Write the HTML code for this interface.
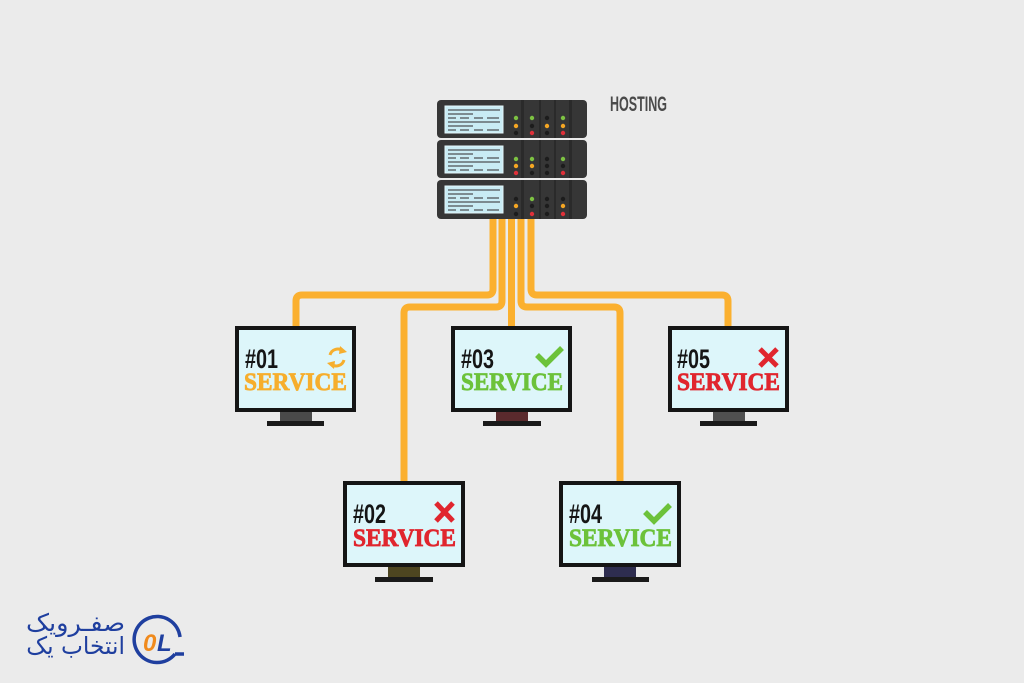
<!DOCTYPE html>
<html><head><meta charset="utf-8"><style>
html,body{margin:0;padding:0;background:#ebebeb;}
svg{display:block;}
.fa{position:absolute;left:0;width:125px;text-align:right;font-family:'DejaVu Sans',sans-serif;font-size:24px;line-height:24px;color:#1f3f9f;transform-origin:right top;white-space:nowrap;}
</style></head><body>
<svg width="1024" height="683" viewBox="0 0 1024 683" xmlns="http://www.w3.org/2000/svg">
<rect width="1024" height="683" fill="#ebebeb"/>

<!-- cables -->
<g fill="none" stroke="#fbb02f" stroke-width="7">
<path d="M493 215 V289 Q493 295 487 295 H302 Q296 295 296 301 V328"/>
<path d="M502 215 V301 Q502 307 496 307 H410 Q404 307 404 313 V483"/>
<path d="M511.5 215 V328"/>
<path d="M521 215 V301 Q521 307 527 307 H614 Q620 307 620 313 V483"/>
<path d="M531 215 V289 Q531 295 537 295 H722 Q728 295 728 301 V328"/>
</g>

<!-- server -->
<g>
<rect x="437" y="100" width="150" height="38" rx="4" fill="#363636"/>
<rect x="437" y="140" width="150" height="38" rx="4" fill="#363636"/>
<rect x="437" y="180" width="150" height="39" rx="4" fill="#363636"/>
<g fill="#2a2a2a">
<rect x="521" y="100" width="3" height="119"/>
<rect x="539" y="100" width="2" height="119"/>
<rect x="554" y="100" width="2" height="119"/>
<rect x="569" y="100" width="3" height="119"/>
</g>
<rect x="437" y="138" width="150" height="2" fill="#ebebeb"/>
<rect x="437" y="178" width="150" height="2" fill="#ebebeb"/>
<g>
<rect x="445" y="106" width="58" height="27" fill="#c9ecf4" stroke="#e4f6fa" stroke-width="1"/>
<rect x="445" y="146" width="58" height="27" fill="#c9ecf4" stroke="#e4f6fa" stroke-width="1"/>
<rect x="445" y="186" width="58" height="27" fill="#c9ecf4" stroke="#e4f6fa" stroke-width="1"/>
<g fill="#7c8b90">
<rect x="448" y="109" width="52" height="2"/><rect x="448" y="113" width="25" height="2"/>
<rect x="448" y="117" width="8" height="2"/><rect x="460" y="117" width="9" height="2"/><rect x="474" y="117" width="9" height="2"/><rect x="487" y="117" width="12" height="2"/>
<rect x="448" y="121" width="52" height="2"/><rect x="448" y="125" width="25" height="2"/>
<rect x="448" y="129" width="8" height="2"/><rect x="460" y="129" width="9" height="2"/><rect x="474" y="129" width="9" height="2"/><rect x="487" y="129" width="12" height="2"/>
</g>
<g fill="#7c8b90" transform="translate(0,40)">
<rect x="448" y="109" width="52" height="2"/><rect x="448" y="113" width="25" height="2"/>
<rect x="448" y="117" width="8" height="2"/><rect x="460" y="117" width="9" height="2"/><rect x="474" y="117" width="9" height="2"/><rect x="487" y="117" width="12" height="2"/>
<rect x="448" y="121" width="52" height="2"/><rect x="448" y="125" width="25" height="2"/>
<rect x="448" y="129" width="8" height="2"/><rect x="460" y="129" width="9" height="2"/><rect x="474" y="129" width="9" height="2"/><rect x="487" y="129" width="12" height="2"/>
</g>
<g fill="#7c8b90" transform="translate(0,80)">
<rect x="448" y="109" width="52" height="2"/><rect x="448" y="113" width="25" height="2"/>
<rect x="448" y="117" width="8" height="2"/><rect x="460" y="117" width="9" height="2"/><rect x="474" y="117" width="9" height="2"/><rect x="487" y="117" width="12" height="2"/>
<rect x="448" y="121" width="52" height="2"/><rect x="448" y="125" width="25" height="2"/>
<rect x="448" y="129" width="8" height="2"/><rect x="460" y="129" width="9" height="2"/><rect x="474" y="129" width="9" height="2"/><rect x="487" y="129" width="12" height="2"/>
</g>
</g>
<g>
<circle cx="516" cy="118" r="2.2" fill="#7dc242"/><circle cx="516" cy="126" r="2.2" fill="#f5a623"/><circle cx="516" cy="133" r="2.2" fill="#1c1c1c"/>
<circle cx="532" cy="118" r="2.2" fill="#7dc242"/><circle cx="532" cy="126" r="2.2" fill="#1c1c1c"/><circle cx="532" cy="133" r="2.2" fill="#e0313a"/>
<circle cx="547" cy="118" r="2.2" fill="#1c1c1c"/><circle cx="547" cy="126" r="2.2" fill="#f5a623"/><circle cx="547" cy="133" r="2.2" fill="#1c1c1c"/>
<circle cx="563" cy="118" r="2.2" fill="#7dc242"/><circle cx="563" cy="126" r="2.2" fill="#f5a623"/><circle cx="563" cy="133" r="2.2" fill="#e0313a"/>

<circle cx="516" cy="159" r="2.2" fill="#7dc242"/><circle cx="516" cy="166" r="2.2" fill="#f5a623"/><circle cx="516" cy="173" r="2.2" fill="#e0313a"/>
<circle cx="532" cy="159" r="2.2" fill="#7dc242"/><circle cx="532" cy="166" r="2.2" fill="#f5a623"/><circle cx="532" cy="173" r="2.2" fill="#1c1c1c"/>
<circle cx="547" cy="159" r="2.2" fill="#1c1c1c"/><circle cx="547" cy="166" r="2.2" fill="#1c1c1c"/><circle cx="547" cy="173" r="2.2" fill="#1c1c1c"/>
<circle cx="563" cy="159" r="2.2" fill="#7dc242"/><circle cx="563" cy="166" r="2.2" fill="#1c1c1c"/><circle cx="563" cy="173" r="2.2" fill="#e0313a"/>

<circle cx="516" cy="199" r="2.2" fill="#1c1c1c"/><circle cx="516" cy="206" r="2.2" fill="#f5a623"/><circle cx="516" cy="214" r="2.2" fill="#1c1c1c"/>
<circle cx="532" cy="199" r="2.2" fill="#7dc242"/><circle cx="532" cy="206" r="2.2" fill="#1c1c1c"/><circle cx="532" cy="214" r="2.2" fill="#e0313a"/>
<circle cx="547" cy="199" r="2.2" fill="#1c1c1c"/><circle cx="547" cy="206" r="2.2" fill="#1c1c1c"/><circle cx="547" cy="214" r="2.2" fill="#1c1c1c"/>
<circle cx="563" cy="199" r="2.2" fill="#1c1c1c"/><circle cx="563" cy="206" r="2.2" fill="#f5a623"/><circle cx="563" cy="214" r="2.2" fill="#e0313a"/>
</g>
</g>

<text x="610" y="111" font-family="Liberation Sans, sans-serif" font-weight="bold" font-size="21" fill="#4a4a4a" textLength="57" lengthAdjust="spacingAndGlyphs">HOSTING</text>

<!-- #01 -->
<g>
<rect x="280" y="411" width="32" height="10" fill="#4a4a4a"/>
<rect x="267" y="421" width="57" height="5" fill="#1a1a1a"/>
<rect x="235" y="326" width="121" height="86" fill="#151515"/>
<rect x="239" y="330" width="113" height="78" fill="#ddf6fa"/>
<text x="245" y="368" font-family="Liberation Sans, sans-serif" font-weight="bold" font-size="27" fill="#151515" textLength="33" lengthAdjust="spacingAndGlyphs">#01</text>
<text x="244" y="390" font-family="Liberation Serif, serif" font-weight="bold" font-size="25" fill="#f6ae2d" stroke="#f6ae2d" stroke-width="0.8" textLength="103" lengthAdjust="spacingAndGlyphs">SERVICE</text>
<g fill="none" stroke="#f6ae2d" stroke-width="3">
<path d="M330 355 A8 8 0 0 1 343 351"/>
<path d="M344 360 A8 8 0 0 1 331 364"/>
</g>
<polygon points="340,346 347,352 339,354" fill="#f6ae2d"/>
<polygon points="334,369 327,363 335,361" fill="#f6ae2d"/>
</g>
<!-- #03 -->
<g>
<rect x="496" y="411" width="32" height="10" fill="#5a2a2d"/>
<rect x="483" y="421" width="58" height="5" fill="#1a1a1a"/>
<rect x="451" y="326" width="121" height="86" fill="#151515"/>
<rect x="455" y="330" width="113" height="78" fill="#ddf6fa"/>
<text x="461" y="368" font-family="Liberation Sans, sans-serif" font-weight="bold" font-size="27" fill="#151515" textLength="33" lengthAdjust="spacingAndGlyphs">#03</text>
<text x="461" y="390" font-family="Liberation Serif, serif" font-weight="bold" font-size="25" fill="#6cc23a" stroke="#6cc23a" stroke-width="0.8" textLength="102" lengthAdjust="spacingAndGlyphs">SERVICE</text>
<polyline points="537,355 546,364 562,348" fill="none" stroke="#6cc23a" stroke-width="5.5"/>
</g>
<!-- #05 -->
<g>
<rect x="713" y="411" width="32" height="10" fill="#505050"/>
<rect x="700" y="421" width="57" height="5" fill="#1a1a1a"/>
<rect x="668" y="326" width="121" height="86" fill="#151515"/>
<rect x="672" y="330" width="113" height="78" fill="#ddf6fa"/>
<text x="677" y="368" font-family="Liberation Sans, sans-serif" font-weight="bold" font-size="27" fill="#151515" textLength="33" lengthAdjust="spacingAndGlyphs">#05</text>
<text x="677" y="390" font-family="Liberation Serif, serif" font-weight="bold" font-size="25" fill="#e0262e" stroke="#e0262e" stroke-width="0.8" textLength="103" lengthAdjust="spacingAndGlyphs">SERVICE</text>
<g stroke="#e0262e" stroke-width="5"><line x1="760" y1="349" x2="777" y2="366"/><line x1="777" y1="349" x2="760" y2="366"/></g>
</g>
<!-- #02 -->
<g>
<rect x="388" y="566" width="32" height="11" fill="#4d4520"/>
<rect x="375" y="577" width="58" height="5" fill="#1a1a1a"/>
<rect x="343" y="481" width="122" height="86" fill="#151515"/>
<rect x="347" y="485" width="114" height="78" fill="#ddf6fa"/>
<text x="353" y="523" font-family="Liberation Sans, sans-serif" font-weight="bold" font-size="27" fill="#151515" textLength="33" lengthAdjust="spacingAndGlyphs">#02</text>
<text x="353" y="546" font-family="Liberation Serif, serif" font-weight="bold" font-size="25" fill="#e0262e" stroke="#e0262e" stroke-width="0.8" textLength="103" lengthAdjust="spacingAndGlyphs">SERVICE</text>
<g stroke="#e0262e" stroke-width="5"><line x1="436" y1="503" x2="453" y2="521"/><line x1="453" y1="503" x2="436" y2="521"/></g>
</g>
<!-- #04 -->
<g>
<rect x="604" y="566" width="32" height="11" fill="#2e2d4f"/>
<rect x="592" y="577" width="57" height="5" fill="#1a1a1a"/>
<rect x="559" y="481" width="122" height="86" fill="#151515"/>
<rect x="563" y="485" width="114" height="78" fill="#ddf6fa"/>
<text x="569" y="523" font-family="Liberation Sans, sans-serif" font-weight="bold" font-size="27" fill="#151515" textLength="33" lengthAdjust="spacingAndGlyphs">#04</text>
<text x="569" y="546" font-family="Liberation Serif, serif" font-weight="bold" font-size="25" fill="#6cc23a" stroke="#6cc23a" stroke-width="0.8" textLength="103" lengthAdjust="spacingAndGlyphs">SERVICE</text>
<polyline points="645,512 654,521 670,505" fill="none" stroke="#6cc23a" stroke-width="5.5"/>
</g>

<!-- logo -->
<g>
<path d="M175 654 A23 23 0 1 1 180 637" fill="none" stroke="#1f3f9f" stroke-width="3.5"/>
<path d="M175 654 L184 654" stroke="#1f3f9f" stroke-width="3.5"/>
<text x="143" y="651" font-family="Liberation Sans, sans-serif" font-weight="bold" font-style="italic" font-size="24" fill="#f08a1c">0</text>
<text x="157" y="651" font-family="Liberation Sans, sans-serif" font-weight="bold" font-style="italic" font-size="24" fill="#1f3f9f">L</text>
</g>
</svg>
<div class="fa" dir="rtl" style="top:611px;transform:scaleX(1.07);">صفـرویک</div>
<div class="fa" dir="rtl" style="top:634px;transform:scaleX(0.97);">انتخاب یک</div>
</body></html>
